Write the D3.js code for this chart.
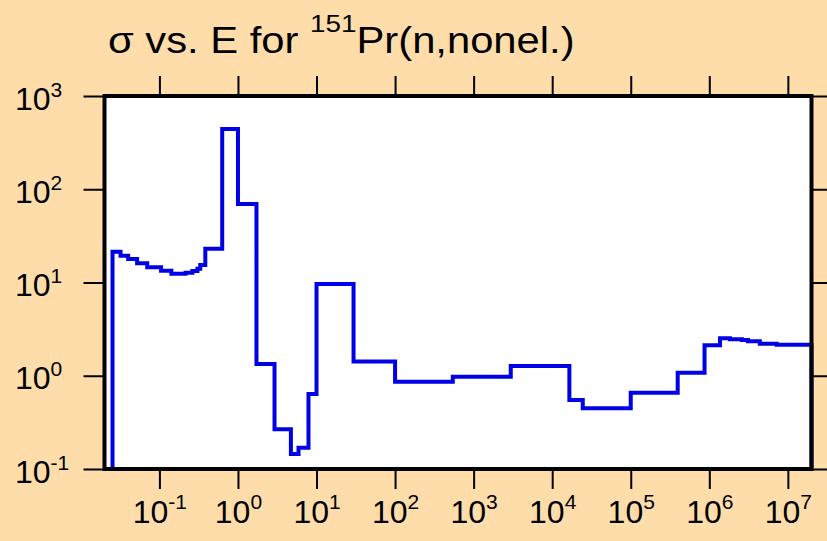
<!DOCTYPE html>
<html>
<head>
<meta charset="utf-8">
<script src="https://cdn.jsdelivr.net/npm/d3@7"></script>
<style>
  html, body { margin: 0; padding: 0; background: #FEDDAB; }
  svg { display: block; }
  text { font-family: "Liberation Sans", Arial, Helvetica, sans-serif; fill: #000; }
</style>
</head>
<body>
<svg id="chart" width="827" height="541"></svg>
<script>
// Bin edges (eV) and cross sections (barns), step histogram
const energyEdges = [0.0253, 0.032, 0.04, 0.052, 0.07, 0.105, 0.142, 0.215, 0.263, 0.305, 0.331, 0.384,
  0.63, 1.0, 1.72, 2.92, 4.72, 5.9, 7.9, 10, 29.6, 100, 543, 2970, 16550, 24500, 1e5, 3.96e5,
  8.7e5, 1.37e6, 1.83e6, 2.6e6, 3.1e6, 4.4e6, 7.2e6, 2e7];
const sigmaValues = [21.4, 19.4, 17.9, 16.1, 14.6, 13.4, 12.4, 12.7, 13.3, 14.0, 15.4,
  23, 443, 69.5, 1.34, 0.267, 0.145, 0.169, 0.637, 9.64, 1.42, 0.863, 0.977, 1.27, 0.55, 0.448,
  0.658, 1.08, 2.12, 2.53, 2.47, 2.42, 2.34, 2.20, 2.15];
const xTickExps = [-1, 0, 1, 2, 3, 4, 5, 6, 7];
const yTickExps = [-1, 0, 1, 2, 3];
const xDomain = [0.02, 2e7];
const yDomain = [0.1, 1000];

const svg = d3.select("#chart");
const L = 104.5, R = 811.5, T = 96, B = 469;

const x = d3.scaleLog().domain(xDomain).range([L, R]);
const y = d3.scaleLog().domain(yDomain).range([B, T]);

// Title
const title = svg.append("text").attr("transform", "translate(108,53) scale(1.16,1)").style("font-size", "36px");
title.append("tspan").text("σ vs. E for ");
title.append("tspan").attr("dy", -21).style("font-size", "24px").text("151");
title.append("tspan").attr("dy", 21).text("Pr(n,nonel.)");

// plot background
svg.append("rect").attr("x", L).attr("y", T).attr("width", R - L).attr("height", B - T).attr("fill", "#fff");

// data line
const pts = [[energyEdges[0], yDomain[0]]];
sigmaValues.forEach((v, i) => pts.push([energyEdges[i], v]));
pts.push([energyEdges[energyEdges.length - 1], sigmaValues[sigmaValues.length - 1]]);
pts.push([energyEdges[energyEdges.length - 1], yDomain[0]]);
const line = d3.line().x(d => x(d[0])).y(d => y(d[1])).curve(d3.curveStepAfter);
svg.append("path").datum(pts).attr("d", line)
  .attr("fill", "none").attr("stroke", "#0000e6").attr("stroke-width", 4).attr("stroke-linejoin", "miter");

const xTicks = xTickExps.map(e => Math.pow(10, e));
const yTicks = yTickExps.map(e => Math.pow(10, e));

function styleAxis(g) {
  g.select(".domain").remove();
  g.selectAll(".tick line").attr("stroke", "#000").attr("stroke-width", 2);
}
function expLabel(sel, supDy) {
  sel.each(function(d) {
    const t = d3.select(this);
    const e = Math.round(Math.log10(d));
    t.text(null);
    t.append("tspan").text("10");
    t.append("tspan").attr("dy", supDy).style("font-size", "21px").text(String(e));
  });
}

// bottom axis
const gB = svg.append("g").attr("transform", `translate(0,${B})`)
  .call(d3.axisBottom(x).tickValues(xTicks).tickSize(20).tickFormat(d => d));
styleAxis(gB);
gB.selectAll(".tick text").attr("y", 54).attr("dy", 0).attr("text-anchor", "middle")
  .style("font-size", "32px").call(expLabel, -14);

// top axis
const gT = svg.append("g").attr("transform", `translate(0,${T})`)
  .call(d3.axisTop(x).tickValues(xTicks).tickSize(20).tickFormat(""));
styleAxis(gT);

// left axis
const gL = svg.append("g").attr("transform", `translate(${L},0)`)
  .call(d3.axisLeft(y).tickValues(yTicks).tickSize(21).tickFormat(d => d));
styleAxis(gL);
gL.selectAll(".tick text").attr("x", 15 - L).attr("dy", 0).attr("y", 13).attr("text-anchor", "start")
  .style("font-size", "32px").call(expLabel, -13);

// right axis
const gR = svg.append("g").attr("transform", `translate(${R},0)`)
  .call(d3.axisRight(y).tickValues(yTicks).tickSize(20).tickFormat(""));
styleAxis(gR);

// frame
svg.append("rect").attr("x", L).attr("y", T).attr("width", R - L).attr("height", B - T)
  .attr("fill", "none").attr("stroke", "#000").attr("stroke-width", 4);
</script>
</body>
</html>
